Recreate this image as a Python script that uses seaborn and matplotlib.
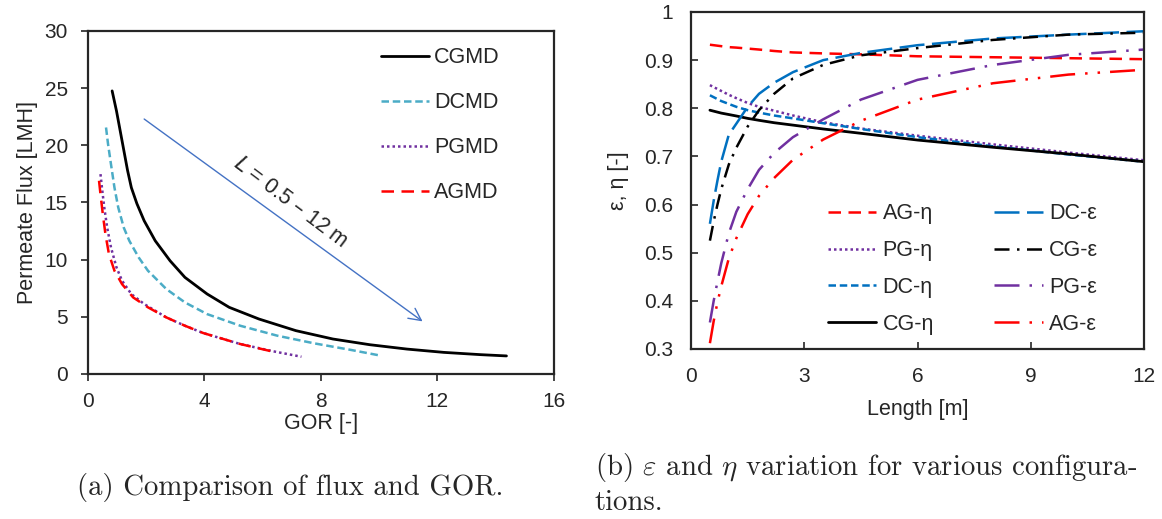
import matplotlib
matplotlib.use("Agg")
import matplotlib.pyplot as plt
import seaborn as sns

# ---------------- data: panel (a) flux vs GOR ----------------
cg_gor = [0.83, 0.98, 1.17, 1.36, 1.49, 1.68, 1.93, 2.31, 2.82, 3.33, 4.09, 4.85,
          5.87, 7.14, 8.41, 9.68, 10.95, 12.22, 13.49, 14.37]
cg_flux = [24.76, 23.0, 20.4, 17.8, 16.3, 14.9, 13.4, 11.65, 9.9, 8.45, 7.0, 5.83,
           4.81, 3.79, 3.06, 2.56, 2.18, 1.89, 1.69, 1.58]
dc_gor = [0.62, 0.69, 0.79, 0.91, 1.04, 1.23, 1.42, 1.74, 2.06, 2.69, 3.33, 4.09,
          5.23, 6.5, 7.77, 9.04, 10.06]
dc_flux = [21.56, 20.1, 18.35, 16.3, 14.56, 12.8, 11.65, 10.2, 9.03, 7.43, 6.26, 5.24,
           4.22, 3.35, 2.68, 2.1, 1.6]
pg_gor = [0.43, 0.48, 0.56, 0.66, 0.79, 0.98, 1.17, 1.49, 1.93, 2.69, 3.33, 3.96,
          5.23, 6.37, 7.33]
pg_flux = [17.48, 16.3, 14.56, 12.8, 11.07, 9.32, 8.16, 6.99, 6.12, 4.95, 4.22, 3.58,
           2.62, 1.98, 1.51]
ag_gor = [0.38, 0.43, 0.51, 0.6, 0.72, 0.91, 1.17, 1.55, 2.06, 2.69, 3.33, 3.96,
          5.23, 6.31]
ag_flux = [16.9, 15.73, 13.98, 12.23, 10.49, 9.03, 7.86, 6.7, 5.83, 4.95, 4.22, 3.58,
           2.62, 1.98]
flux_names = ["CGMD", "DCMD", "PGMD", "AGMD"]

# ---------------- data: panel (b) epsilon / eta vs length ----------------
length = [0.5, 0.6, 0.7, 0.8, 1.0, 1.2, 1.5, 1.8, 2.2, 2.7, 3.5, 4.5, 6, 8, 10, 12]
ag_eta = [0.932, 0.931, 0.930, 0.929, 0.927, 0.926, 0.924, 0.922, 0.919, 0.916,
          0.914, 0.912, 0.908, 0.906, 0.904, 0.902]
pg_eta = [0.848, 0.844, 0.840, 0.836, 0.828, 0.821, 0.811, 0.803, 0.795, 0.785,
          0.771, 0.758, 0.743, 0.725, 0.708, 0.692]
dc_eta = [0.827, 0.823, 0.819, 0.815, 0.809, 0.803, 0.796, 0.791, 0.785, 0.779,
          0.769, 0.757, 0.740, 0.721, 0.704, 0.689]
cg_eta = [0.796, 0.794, 0.792, 0.790, 0.787, 0.784, 0.779, 0.775, 0.770, 0.765,
          0.757, 0.748, 0.734, 0.719, 0.705, 0.689]
dc_eps = [0.560, 0.608, 0.650, 0.689, 0.745, 0.768, 0.803, 0.830, 0.853, 0.875,
          0.900, 0.915, 0.931, 0.945, 0.953, 0.960]
cg_eps = [0.525, 0.565, 0.600, 0.632, 0.683, 0.718, 0.762, 0.796, 0.830, 0.862,
          0.890, 0.910, 0.925, 0.942, 0.953, 0.957]
pg_eps = [0.355, 0.400, 0.440, 0.478, 0.540, 0.585, 0.632, 0.672, 0.707, 0.740,
          0.777, 0.818, 0.859, 0.890, 0.911, 0.922]
ag_eps = [0.312, 0.358, 0.397, 0.430, 0.488, 0.530, 0.580, 0.618, 0.655, 0.693,
          0.735, 0.774, 0.818, 0.852, 0.870, 0.880]
eff_names = ["AG-η", "PG-η", "DC-η", "CG-η", "DC-ε", "CG-ε", "PG-ε", "AG-ε"]

left_xticks = [0, 4, 8, 12, 16]
left_yticks = [0, 5, 10, 15, 20, 25, 30]
right_xticks = [0, 3, 6, 9, 12]
right_yticks = [0.3, 0.4, 0.5, 0.6, 0.7, 0.8, 0.9, 1.0]
right_ylabels = ["0.3", "0.4", "0.5", "0.6", "0.7", "0.8", "0.9", "1"]

sns.set_style("ticks")
plt.rcParams['font.family'] = ['Liberation Sans', 'DejaVu Sans']

fig = plt.figure(figsize=(11.62, 5.19), dpi=100)
axA = fig.add_axes([0.0757, 0.2794, 0.4010, 0.6609])
axB = fig.add_axes([0.5947, 0.3276, 0.3898, 0.6493])

RED = "#FF0000"
PURPLE = "#7030A0"
BLUE = "#0070C0"
TEAL = "#4BACC6"

TICK_FS = 15
LAB_FS = 15.5
LEG_FS = 15.5


def draw(ax, x, y, color, dashes, label, lw=1.8):
    sns.lineplot(x=x, y=y, ax=ax, color=color, lw=lw, label=label,
                 estimator=None, sort=False, legend=False)
    ln = ax.lines[-1]
    ln.set_label(label)
    if dashes is None:
        ln.set_linestyle("-")
    else:
        ln.set_dashes(dashes)
    ln.set_dash_capstyle("butt")
    ln.set_solid_joinstyle("round")
    return ln

# ---------- panel (a) ----------
hA = []
hA.append(draw(axA, cg_gor, cg_flux, "black", None, flux_names[0], lw=2.0))
hA.append(draw(axA, dc_gor, dc_flux, TEAL, (3, 1.5), flux_names[1]))
hA.append(draw(axA, pg_gor, pg_flux, PURPLE, (1, 1.2), flux_names[2]))
hA.append(draw(axA, ag_gor, ag_flux, RED, (5, 3), flux_names[3]))

axA.set_xlim(0, 16)
axA.set_ylim(0, 30)
axA.set_xticks(left_xticks)
axA.set_yticks(left_yticks)
axA.tick_params(direction="out", length=5, width=1.2, labelsize=TICK_FS)
axA.tick_params(axis="x", pad=8)
axA.tick_params(axis="y", pad=9.5)
for s in axA.spines.values():
    s.set_linewidth(1.6)
    s.set_visible(True)
axA.set_xlabel("GOR [-]", fontsize=LAB_FS, labelpad=1.5)
axA.set_ylabel("Permeate Flux [LMH]", fontsize=LAB_FS, labelpad=5)

axA.annotate("", xy=(11.49, 4.6), xytext=(1.93, 22.3),
             arrowprops=dict(arrowstyle="->", color="#4472C4", lw=1.0,
                             mutation_scale=22, shrinkA=0, shrinkB=0))
axA.text(6.95, 15.0, r"$L$ = 0.5 – 12 m", rotation=-37, rotation_mode="anchor",
         ha="center", va="center", fontsize=LAB_FS)

axA.legend(handles=hA, labels=flux_names, loc="upper left",
           bbox_to_anchor=(0.629, 0.952), frameon=False, fontsize=LEG_FS,
           handlelength=2.25, handletextpad=0.2, labelspacing=1.11,
           borderpad=0, borderaxespad=0)

# ---------- panel (b) ----------
hB = []
hB.append(draw(axB, length, ag_eta, RED, (5, 3), eff_names[0]))
hB.append(draw(axB, length, pg_eta, PURPLE, (1, 1.2), eff_names[1]))
hB.append(draw(axB, length, dc_eta, BLUE, (3, 1.5), eff_names[2]))
hB.append(draw(axB, length, cg_eta, "black", None, eff_names[3], lw=2.0))
hB.append(draw(axB, length, dc_eps, BLUE, (10, 3), eff_names[4]))
hB.append(draw(axB, length, cg_eps, "black", (6, 3, 1, 3), eff_names[5]))
hB.append(draw(axB, length, pg_eps, PURPLE, (10, 4, 1, 4), eff_names[6]))
hB.append(draw(axB, length, ag_eps, RED, (10, 4, 1, 4, 1, 4), eff_names[7]))

axB.set_xlim(0, 12)
axB.set_ylim(0.3, 1.0)
axB.set_xticks(right_xticks)
axB.set_yticks(right_yticks)
axB.set_yticklabels(right_ylabels)
axB.tick_params(direction="in", length=5, width=1.2, labelsize=TICK_FS, pad=13)
for s in axB.spines.values():
    s.set_linewidth(1.6)
    s.set_visible(True)
axB.set_xlabel("Length [m]", fontsize=LAB_FS, labelpad=9)
axB.set_ylabel("ε, η [-]", fontsize=LAB_FS, labelpad=11)

axB.legend(handles=hB, labels=eff_names, ncol=2, loc="upper left",
           bbox_to_anchor=(0.302, 0.432), frameon=False, fontsize=LEG_FS,
           handlelength=2.25, handletextpad=0.3, labelspacing=0.73,
           columnspacing=2.8, borderpad=0, borderaxespad=0)

# ---------- captions ----------
CAP_FS = 20.7
fig.text(290 / 1162, 1 - 487 / 519, "(a) Comparison of flux and GOR.",
         family="cmr10", fontsize=CAP_FS, ha="center", va="center")
fig.text(595 / 1162, 1 - 467 / 519,
         r"(b) $\varepsilon$ and $\eta$ variation for various configura-",
         family="cmr10", math_fontfamily="cm", fontsize=CAP_FS, ha="left", va="center")
fig.text(595 / 1162, 1 - 503 / 519, "tions.",
         family="cmr10", fontsize=CAP_FS, ha="left", va="center")

fig.savefig("out.png", dpi=100)
